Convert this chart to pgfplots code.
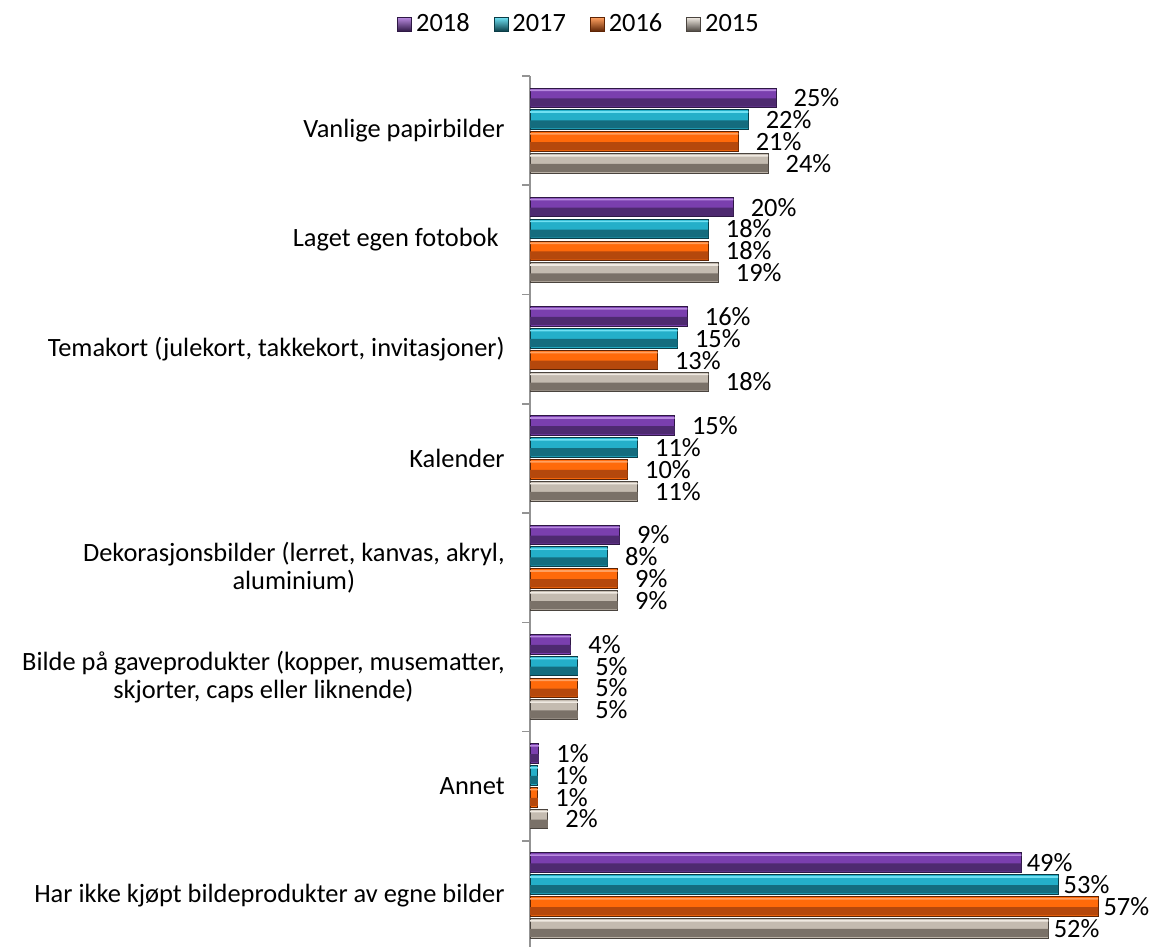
\documentclass[border=0pt]{standalone}
\usepackage{fontspec}
\setmainfont{Carlito}
\usepackage{pgfplots}
\pgfplotsset{compat=1.18}
\definecolor{pL}{HTML}{B88ADF}
\definecolor{pU}{HTML}{7A3FAE}
\definecolor{pLo}{HTML}{4E2A70}
\definecolor{pD}{HTML}{2E1844}
\definecolor{tL}{HTML}{6FE0F2}
\definecolor{tU}{HTML}{24AFC9}
\definecolor{tLo}{HTML}{146C7E}
\definecolor{tD}{HTML}{0A3C46}
\definecolor{oL}{HTML}{FFA060}
\definecolor{oU}{HTML}{FF6A0A}
\definecolor{oLo}{HTML}{B5480C}
\definecolor{oD}{HTML}{5E2404}
\definecolor{gL}{HTML}{F0EAE2}
\definecolor{gU}{HTML}{C4BBB0}
\definecolor{gLo}{HTML}{7A7168}
\definecolor{gD}{HTML}{4A443E}
\newcommand{\cf}{\fontsize{13.2}{14.3}\selectfont}
\pgfplotsset{
  mainbar/.style n args={4}{bar shift=#1, fill=#2, draw=#3, line width=0.5pt,
    point meta=explicit,
    nodes near coords={\pgfmathprintnumber[assume math mode=true]{\pgfplotspointmeta}\%},
    legend image code/.code={\path[draw=#3, line width=0.4pt, top color=#4, middle color=#2, bottom color=#3] (0pt,-3.5pt) rectangle (7pt,3.5pt);}},
  band/.style n args={3}{forget plot, bar shift=#1, bar width=#2, fill=#3, draw=none},
}
\begin{document}
\begin{tikzpicture}
\begin{axis}[
  name=ax,
  scale only axis,
  width=299pt, height=437.1pt,
  xbar,
  bar width=0.18,
  xmin=0, xmax=60,
  ymin=-0.5, ymax=7.5,
  y dir=reverse,
  axis x line=none,
  axis y line*=left,
  y axis line style={draw=gray!85, line width=0.8pt, -},
  ytick={0,1,2,3,4,5,6,7},
  yticklabels={
    Vanlige papirbilder,
    Laget egen fotobok\ ,
    {Temakort (julekort, takkekort, invitasjoner)},
    Kalender,
    {Dekorasjonsbilder (lerret, kanvas, akryl,\\aluminium)},
    {Bilde på gaveprodukter (kopper, musematter,\\skjorter, caps eller liknende)},
    Annet,
    Har ikke kjøpt bildeprodukter av egne bilder},
  minor ytick={-0.5,0.5,1.5,2.5,3.5,4.5,5.5,6.5,7.5},
  major tick length=0pt,
  minor tick length=4pt,
  tick align=outside,
  minor tick style={draw=gray!85, line width=0.8pt},
  yticklabel style={font=\cf, align=center, inner sep=0pt, xshift=-12.5pt},
  point meta min=0, point meta max=100,
  nodes near coords align=horizontal,
  every node near coord/.append style={font=\cf, inner sep=0pt, anchor=west, text=black,
    xshift={ifthenelse(\pgfplotspointmetatransformed>400,2.5,8.5)*1pt}},
  legend columns=4,
  legend style={at={(0.0836,1.059)}, anchor=center, draw=none, fill=none, font=\cf,
    /tikz/every even column/.append style={column sep=10pt}},
  clip=false,
]
% 2018
\addplot[mainbar={-0.3}{pU}{pD}{pL}]
  coordinates {(24.7,0) [25] (20.4,1) [20] (15.8,2) [16] (14.5,3) [15] (9.0,4) [9] (4.1,5) [4] (0.9,6) [1] (49.3,7) [49]};
\addplot[band={-0.37}{0.015}{pL}]
  coordinates {(24.7,0) (20.4,1) (15.8,2) (14.5,3) (9.0,4) (4.1,5) (0.9,6) (49.3,7)};
\addplot[band={-0.2575}{0.075}{pLo}]
  coordinates {(24.7,0) (20.4,1) (15.8,2) (14.5,3) (9.0,4) (4.1,5) (0.9,6) (49.3,7)};
% 2017
\addplot[mainbar={-0.1}{tU}{tD}{tL}]
  coordinates {(21.9,0) [22] (17.9,1) [18] (14.8,2) [15] (10.8,3) [11] (7.8,4) [8] (4.8,5) [5] (0.8,6) [1] (53.0,7) [53]};
\addplot[band={-0.17}{0.015}{tL}]
  coordinates {(21.9,0) (17.9,1) (14.8,2) (10.8,3) (7.8,4) (4.8,5) (0.8,6) (53.0,7)};
\addplot[band={-0.0575}{0.075}{tLo}]
  coordinates {(21.9,0) (17.9,1) (14.8,2) (10.8,3) (7.8,4) (4.8,5) (0.8,6) (53.0,7)};
% 2016
\addplot[mainbar={0.1}{oU}{oD}{oL}]
  coordinates {(20.9,0) [21] (17.9,1) [18] (12.8,2) [13] (9.8,3) [10] (8.8,4) [9] (4.8,5) [5] (0.8,6) [1] (57.0,7) [57]};
\addplot[band={0.03}{0.015}{oL}]
  coordinates {(20.9,0) (17.9,1) (12.8,2) (9.8,3) (8.8,4) (4.8,5) (0.8,6) (57.0,7)};
\addplot[band={0.1425}{0.075}{oLo}]
  coordinates {(20.9,0) (17.9,1) (12.8,2) (9.8,3) (8.8,4) (4.8,5) (0.8,6) (57.0,7)};
% 2015
\addplot[mainbar={0.3}{gU}{gD}{gL}]
  coordinates {(23.9,0) [24] (18.9,1) [19] (17.9,2) [18] (10.8,3) [11] (8.8,4) [9] (4.8,5) [5] (1.8,6) [2] (52.0,7) [52]};
\addplot[band={0.23}{0.015}{gL}]
  coordinates {(23.9,0) (18.9,1) (17.9,2) (10.8,3) (8.8,4) (4.8,5) (1.8,6) (52.0,7)};
\addplot[band={0.3425}{0.075}{gLo}]
  coordinates {(23.9,0) (18.9,1) (17.9,2) (10.8,3) (8.8,4) (4.8,5) (1.8,6) (52.0,7)};
\legend{2018,2017,2016,2015}
\end{axis}
\pgfresetboundingbox
\path[use as bounding box] ([xshift=-265pt,yshift=38pt]ax.north west) rectangle ([xshift=11.5pt,yshift=1.65pt]ax.south east);
\end{tikzpicture}
\end{document}
